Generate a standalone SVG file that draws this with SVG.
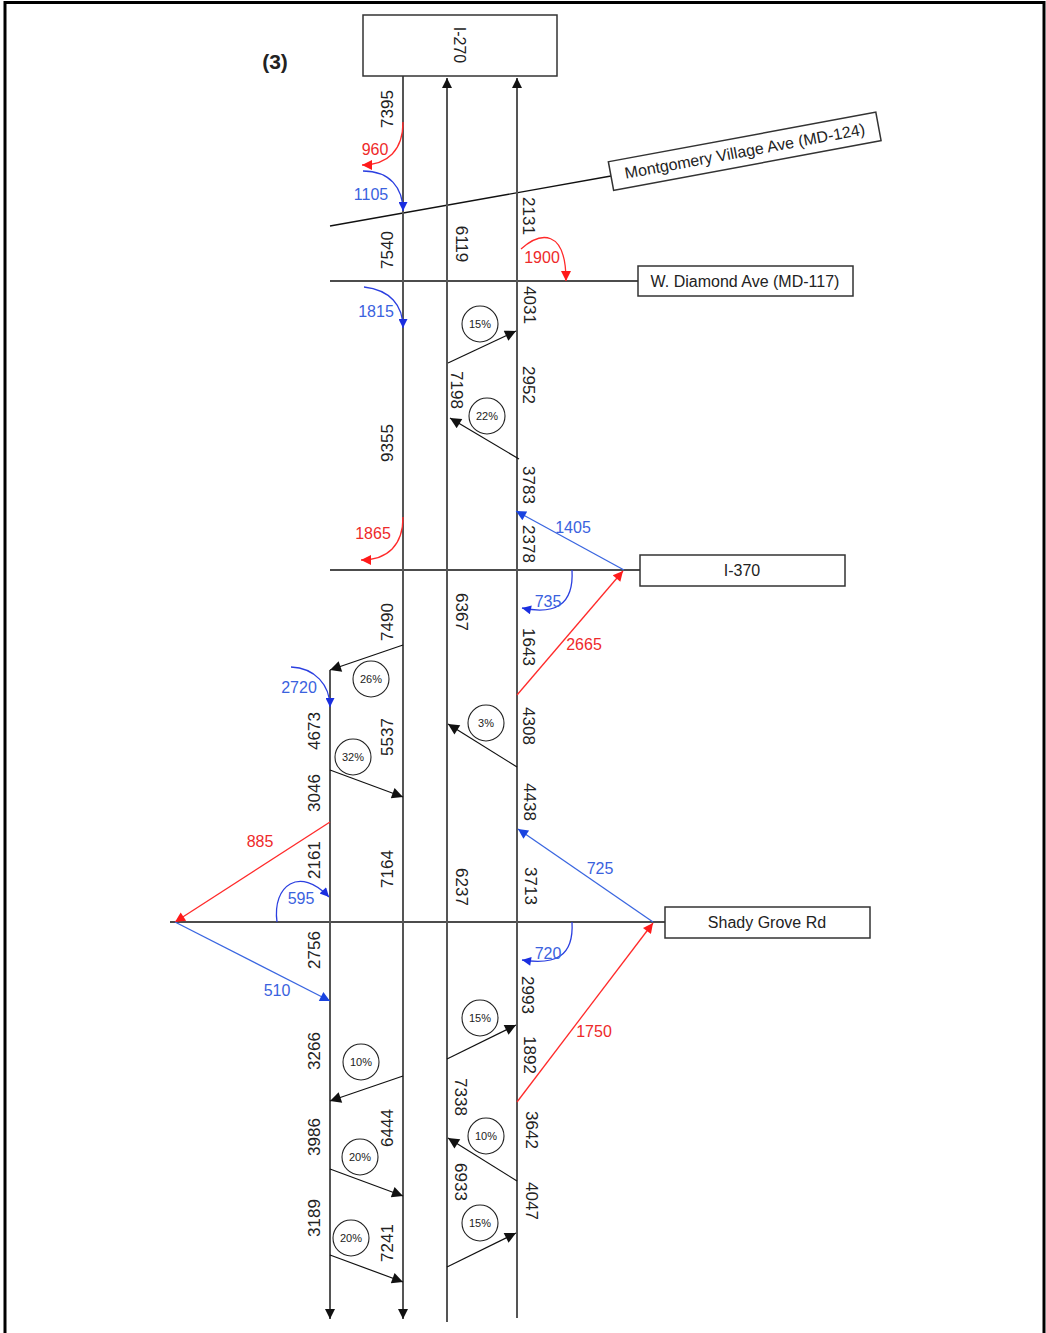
<svg xmlns="http://www.w3.org/2000/svg" width="1046" height="1333" viewBox="0 0 1046 1333">
<style>
text{font-family:"Liberation Sans",Arial,sans-serif}
.box{fill:#fff;stroke:#333;stroke-width:1.5}
.road{stroke:#111;stroke-width:1.3;fill:none}
.main{stroke:#555;stroke-width:2;fill:none}
.blk{stroke:#111;stroke-width:1.2;fill:none;marker-end:url(#ab)}
.red{stroke:#ff2a2a;stroke-width:1.3;fill:none;marker-end:url(#ar)}
.blue{stroke:#2b3fe0;stroke-width:1.3;fill:none;marker-end:url(#au)}
.bl2{stroke:#3a66e0;stroke-width:1.3;fill:none;marker-end:url(#au2)}
.pc{fill:#fff;stroke:#222;stroke-width:1.1}
.pt{font-size:11px;fill:#222;text-anchor:middle;dominant-baseline:central}
.num{font-size:17px;fill:#222;text-anchor:middle;dominant-baseline:central}
.rl{font-size:16px;fill:#ee2a2a;text-anchor:middle;dominant-baseline:central}
.bll{font-size:16px;fill:#3a62de;text-anchor:middle;dominant-baseline:central}
.bt{font-size:16px;fill:#222;text-anchor:middle;dominant-baseline:central}
</style>
<defs>
<marker id="am" viewBox="0 0 10 10" refX="10" refY="5" markerUnits="userSpaceOnUse" markerWidth="16" markerHeight="10" orient="auto"><path d="M0,0 L10,5 L0,10 z" fill="#111"/></marker>
<marker id="ab" viewBox="0 0 10 10" refX="10" refY="5" markerUnits="userSpaceOnUse" markerWidth="15" markerHeight="11" orient="auto"><path d="M0,0 L10,5 L0,10 z" fill="#111"/></marker>
<marker id="ar" viewBox="0 0 10 10" refX="10" refY="5" markerUnits="userSpaceOnUse" markerWidth="14" markerHeight="10" orient="auto"><path d="M0,0 L10,5 L0,10 z" fill="#ff1a1a"/></marker>
<marker id="au" viewBox="0 0 10 10" refX="10" refY="5" markerUnits="userSpaceOnUse" markerWidth="13" markerHeight="9" orient="auto"><path d="M0,0 L10,5 L0,10 z" fill="#1a2ee0"/></marker>
<marker id="au2" viewBox="0 0 10 10" refX="10" refY="5" markerUnits="userSpaceOnUse" markerWidth="14" markerHeight="10" orient="auto"><path d="M0,0 L10,5 L0,10 z" fill="#1a44e0"/></marker>
</defs>
<rect width="1046" height="1333" fill="#fff"/>
<path d="M5,1333 V2.5 H1044 V1333" fill="none" stroke="#000" stroke-width="3"/>
<text x="275" y="61" font-size="21" font-weight="bold" fill="#222" text-anchor="middle" dominant-baseline="central">(3)</text>

<g id="connectors">
<!-- roads -->
<path class="road" d="M330,226 L611,176"/>
<path class="road" d="M330,281 L638,281"/>
<path class="road" d="M330,570 L640,570"/>
<path class="road" d="M170,922 L665,922"/>
<!-- main lines -->
<path class="main" d="M330,670 L330,1319" marker-end="url(#am)"/>
<path class="main" d="M403,76 L403,1319" marker-end="url(#am)"/>
<path class="main" d="M447,1322 L447,78" marker-end="url(#am)"/>
<path class="main" d="M517,1318 L517,78" marker-end="url(#am)"/>
<!-- black diagonal -->
<path class="blk" d="M448,363 L516,331"/>
<path class="blk" d="M519,459 L450,418"/>
<path class="blk" d="M403,645 L330,670"/>
<path class="blk" d="M330,770 L403,797"/>
<path class="blk" d="M517,767 L448,724"/>
<path class="blk" d="M447,1059 L516,1025"/>
<path class="blk" d="M403,1076 L330,1101"/>
<path class="blk" d="M517,1181 L448,1138"/>
<path class="blk" d="M330,1169 L403,1196"/>
<path class="blk" d="M447,1267 L516,1233"/>
<path class="blk" d="M330,1255 L403,1282"/>
<!-- red -->
<path class="red" d="M403,122 C403,150 388,165 362,165"/>
<path class="red" d="M521,249 C540,232 566,228 566,281"/>
<path class="red" d="M403,517 C403,545 388,560 361,560"/>
<path class="red" d="M517,695 L623,571"/>
<path class="red" d="M330,822 L175,922"/>
<path class="red" d="M517,1102 L653,923"/>
<!-- blue -->
<path class="blue" d="M363,171 C390,171 403,188 403,211"/>
<path class="blue" d="M364,287 C390,290 403,305 403,328"/>
<path class="bl2" d="M624,570 L516,511"/>
<path class="blue" d="M572,570 C574,605 555,615 522,608"/>
<path class="blue" d="M291,667 C315,668 330,685 330,707"/>
<path class="blue" d="M277,922 C272,885 300,866 329,897"/>
<path class="bl2" d="M653,922 L518,829"/>
<path class="bl2" d="M175,922 L330,1001"/>
<path class="blue" d="M572,922 C574,957 555,965 522,960"/>
</g>

<g id="node-i270"><rect class="box" x="363" y="15" width="194" height="61"/><text class="bt" transform="translate(459,45) rotate(90)">I-270</text></g>
<g id="node-montgomery" transform="translate(611,176) rotate(-10.5)"><rect class="box" x="0" y="-14.5" width="272" height="29"/><text class="bt" x="136" y="0">Montgomery Village Ave (MD-124)</text></g>
<g id="node-diamond"><rect class="box" x="638" y="266" width="215" height="30"/><text class="bt" x="745" y="281">W. Diamond Ave (MD-117)</text></g>
<g id="node-i370"><rect class="box" x="640" y="555" width="205" height="31"/><text class="bt" x="742" y="570">I-370</text></g>
<g id="node-shady"><rect class="box" x="665" y="907" width="205" height="31"/><text class="bt" x="767" y="922">Shady Grove Rd</text></g>

<g id="pct">
<g id="p1"><circle class="pc" cx="480" cy="324" r="18"/><text class="pt" x="480" y="324">15%</text></g>
<g id="p2"><circle class="pc" cx="487" cy="416" r="18"/><text class="pt" x="487" y="416">22%</text></g>
<g id="p3"><circle class="pc" cx="371" cy="679" r="18"/><text class="pt" x="371" y="679">26%</text></g>
<g id="p4"><circle class="pc" cx="353" cy="757" r="18"/><text class="pt" x="353" y="757">32%</text></g>
<g id="p5"><circle class="pc" cx="486" cy="723" r="18"/><text class="pt" x="486" y="723">3%</text></g>
<g id="p6"><circle class="pc" cx="480" cy="1018" r="18"/><text class="pt" x="480" y="1018">15%</text></g>
<g id="p7"><circle class="pc" cx="361" cy="1062" r="18"/><text class="pt" x="361" y="1062">10%</text></g>
<g id="p8"><circle class="pc" cx="486" cy="1136" r="18"/><text class="pt" x="486" y="1136">10%</text></g>
<g id="p9"><circle class="pc" cx="360" cy="1157" r="18"/><text class="pt" x="360" y="1157">20%</text></g>
<g id="p10"><circle class="pc" cx="480" cy="1223" r="18"/><text class="pt" x="480" y="1223">15%</text></g>
<g id="p11"><circle class="pc" cx="351" cy="1238" r="18"/><text class="pt" x="351" y="1238">20%</text></g>
</g>

<g id="volumes">
<text class="num" transform="translate(387,109) rotate(-90)">7395</text>
<text class="num" transform="translate(387,250) rotate(-90)">7540</text>
<text class="num" transform="translate(387,443) rotate(-90)">9355</text>
<text class="num" transform="translate(387,622) rotate(-90)">7490</text>
<text class="num" transform="translate(387,737) rotate(-90)">5537</text>
<text class="num" transform="translate(387,869) rotate(-90)">7164</text>
<text class="num" transform="translate(387,1128) rotate(-90)">6444</text>
<text class="num" transform="translate(387,1243) rotate(-90)">7241</text>
<text class="num" transform="translate(314,731) rotate(-90)">4673</text>
<text class="num" transform="translate(314,793) rotate(-90)">3046</text>
<text class="num" transform="translate(314,860) rotate(-90)">2161</text>
<text class="num" transform="translate(314,950) rotate(-90)">2756</text>
<text class="num" transform="translate(314,1051) rotate(-90)">3266</text>
<text class="num" transform="translate(314,1137) rotate(-90)">3986</text>
<text class="num" transform="translate(314,1218) rotate(-90)">3189</text>
<text class="num" transform="translate(461,244) rotate(90)">6119</text>
<text class="num" transform="translate(456,390) rotate(90)">7198</text>
<text class="num" transform="translate(461,612) rotate(90)">6367</text>
<text class="num" transform="translate(461,887) rotate(90)">6237</text>
<text class="num" transform="translate(460,1097) rotate(90)">7338</text>
<text class="num" transform="translate(460,1182) rotate(90)">6933</text>
<text class="num" transform="translate(528,216) rotate(90)">2131</text>
<text class="num" transform="translate(529,305) rotate(90)">4031</text>
<text class="num" transform="translate(528,385) rotate(90)">2952</text>
<text class="num" transform="translate(528,485) rotate(90)">3783</text>
<text class="num" transform="translate(528,544) rotate(90)">2378</text>
<text class="num" transform="translate(528,647) rotate(90)">1643</text>
<text class="num" transform="translate(528,726) rotate(90)">4308</text>
<text class="num" transform="translate(529,802) rotate(90)">4438</text>
<text class="num" transform="translate(530,886) rotate(90)">3713</text>
<text class="num" transform="translate(527,995) rotate(90)">2993</text>
<text class="num" transform="translate(529,1055) rotate(90)">1892</text>
<text class="num" transform="translate(531,1130) rotate(90)">3642</text>
<text class="num" transform="translate(531,1201) rotate(90)">4047</text>
</g>

<g id="turn-labels">
<text class="rl" x="375" y="149">960</text>
<text class="rl" x="542" y="257">1900</text>
<text class="rl" x="373" y="533">1865</text>
<text class="rl" x="584" y="644">2665</text>
<text class="rl" x="260" y="841">885</text>
<text class="rl" x="594" y="1031">1750</text>
<text class="bll" x="371" y="194">1105</text>
<text class="bll" x="376" y="311">1815</text>
<text class="bll" x="573" y="527">1405</text>
<text class="bll" x="548" y="601">735</text>
<text class="bll" x="299" y="687">2720</text>
<text class="bll" x="301" y="898">595</text>
<text class="bll" x="600" y="868">725</text>
<text class="bll" x="277" y="990">510</text>
<text class="bll" x="548" y="953">720</text>
</g>
</svg>
